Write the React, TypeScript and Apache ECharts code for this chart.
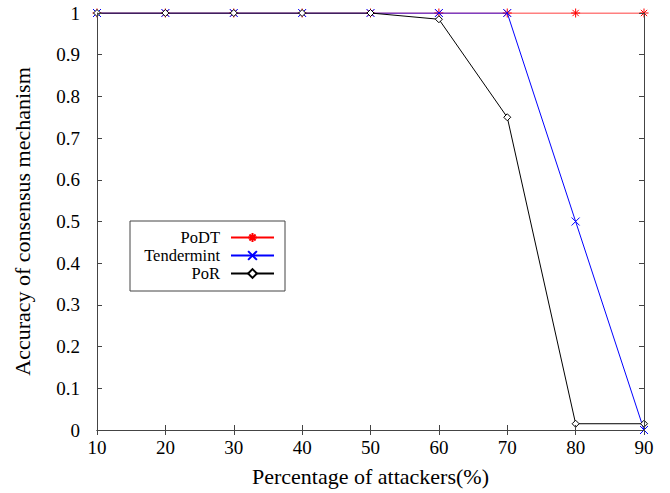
import React, { useEffect, useRef } from "react";
import * as echarts from "echarts";

const categories = [10, 20, 30, 40, 50, 60, 70, 80, 90];
const podt = [1, 1, 1, 1, 1, 1, 1, 1, 1];
const tendermint = [1, 1, 1, 1, 1, 1, 1, 0.5, 0.0];
const por = [1, 1, 1, 1, 1, 0.985, 0.75, 0.015, 0.015];
const seriesNames = ["PoDT", "Tendermint", "PoR"];
const seriesColors = ["#ff0000", "#0000ff", "#000000"];

const FONT = "'Liberation Serif', 'Times New Roman', serif";
const ASTERISK = "path://M0,5L10,5M5,0L5,10M1.5,1.5L8.5,8.5M1.5,8.5L8.5,1.5";
const CROSS = "path://M0,0L10,10M0,10L10,0";
const DIAMOND = "path://M5,0L10,5L5,10L0,5Z";

export default function App() {
  const ref = useRef<HTMLDivElement>(null);
  useEffect(() => {
    if (!ref.current) return;
    const chart = echarts.init(ref.current, undefined, { renderer: "svg" });
    const mk = (arr: number[]) => categories.map((c, i) => [c, arr[i]]);
    const axisLineStyle = { color: "#444", width: 1 };
    chart.setOption({
      animation: false,
      backgroundColor: "#fff",
      grid: { left: 97, right: 26, top: 13, bottom: 63 },
      legend: {
        orient: "vertical",
        left: 130,
        top: 221,
        align: "right",
        padding: [8, 10, 9, 10],
        borderColor: "#444",
        borderWidth: 1,
        itemWidth: 43,
        itemHeight: 11,
        itemGap: 1,
        textStyle: {
          fontFamily: FONT,
          fontSize: 16.5,
          lineHeight: 16,
          color: "#000",
          width: 80,
          align: "right",
          padding: [0, 6, 0, 0],
        },
        data: seriesNames,
      },
      xAxis: [
        {
          type: "value",
          min: 10,
          max: 90,
          interval: 10,
          name: "Percentage of attackers(%)",
          nameLocation: "middle",
          nameGap: 35,
          nameTextStyle: { fontFamily: FONT, fontSize: 22, color: "#000" },
          axisLine: { show: true, lineStyle: axisLineStyle },
          axisTick: { show: true, inside: true, length: 5, lineStyle: axisLineStyle },
          axisLabel: { fontFamily: FONT, fontSize: 19, color: "#000", margin: 8 },
          splitLine: { show: false },
          z: 5,
        },
        {
          type: "value",
          position: "top",
          min: 10,
          max: 90,
          interval: 10,
          axisLine: { show: true, lineStyle: axisLineStyle },
          axisTick: { show: true, inside: true, length: 5, lineStyle: axisLineStyle },
          axisLabel: { show: false },
          splitLine: { show: false },
          z: 5,
        },
      ],
      yAxis: [
        {
          type: "value",
          min: 0,
          max: 1,
          interval: 0.1,
          name: "Accuracy of consensus mechanism",
          nameLocation: "middle",
          nameGap: 64,
          nameTextStyle: { fontFamily: FONT, fontSize: 22, color: "#000" },
          axisLine: { show: true, lineStyle: axisLineStyle },
          axisTick: { show: true, inside: true, length: 5, lineStyle: axisLineStyle },
          axisLabel: { fontFamily: FONT, fontSize: 19, color: "#000", margin: 17 },
          splitLine: { show: false },
          z: 5,
        },
        {
          type: "value",
          position: "right",
          min: 0,
          max: 1,
          interval: 0.1,
          axisLine: { show: true, lineStyle: axisLineStyle },
          axisTick: { show: true, inside: true, length: 5, lineStyle: axisLineStyle },
          axisLabel: { show: false },
          splitLine: { show: false },
          z: 5,
        },
      ],
      series: [
        {
          name: seriesNames[0],
          type: "line",
          data: mk(podt),
          symbol: ASTERISK,
          symbolSize: 9,
          showAllSymbol: true,
          lineStyle: { color: seriesColors[0], width: 1 },
          itemStyle: { color: seriesColors[0], borderColor: seriesColors[0], borderWidth: 1 },
          z: 2,
        },
        {
          name: seriesNames[1],
          type: "line",
          data: mk(tendermint),
          symbol: CROSS,
          symbolSize: 8,
          showAllSymbol: true,
          lineStyle: { color: seriesColors[1], width: 1 },
          itemStyle: { color: seriesColors[1], borderColor: seriesColors[1], borderWidth: 1 },
          z: 3,
        },
        {
          name: seriesNames[2],
          type: "line",
          data: mk(por),
          symbol: DIAMOND,
          symbolSize: 7,
          showAllSymbol: true,
          lineStyle: { color: seriesColors[2], width: 1 },
          itemStyle: { color: "#fff", borderColor: seriesColors[2], borderWidth: 1 },
          z: 4,
        },
      ],
    });
    return () => chart.dispose();
  }, []);
  return <div ref={ref} style={{ width: 670, height: 493, position: "absolute", left: 0, top: 0 }} />;
}
